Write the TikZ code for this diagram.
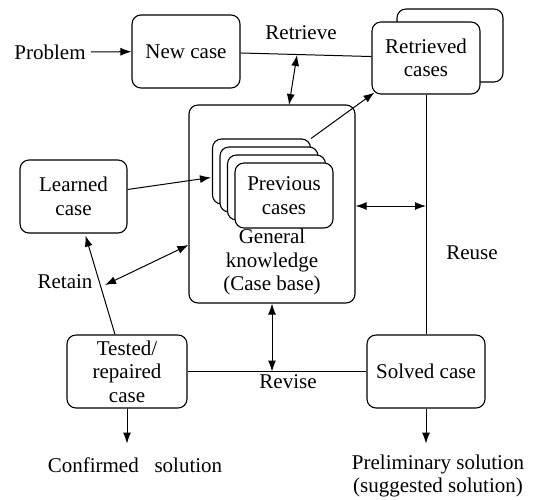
\documentclass[tikz,border=0pt]{standalone}
\usepackage{fontspec}
\setmainfont{Liberation Serif}
\usetikzlibrary{arrows.meta,calc}

\tikzset{
	cbrbox/.style={draw, line width=1.1pt, rounded corners=9pt, fill=white, align=center, inner sep=1pt},
	lbl/.style={align=center, inner sep=2pt},
	arr/.style={line width=1pt, -{Latex[length=11pt,width=8pt]}},
	darr/.style={line width=1pt, {Latex[length=11pt,width=8pt]}-{Latex[length=11pt,width=8pt]}},
	conn/.style={line width=1pt}
}

\begin{document}
\begin{tikzpicture}[x=1pt, y=-1pt, every node/.style={font=\fontsize{21}{23.5}\selectfont}]
	
	\useasboundingbox (0,0) rectangle (534,499);
	
	% top row
	\node[lbl, inner sep=5pt] (problem) at (50,52) {Problem};
	\node[cbrbox, minimum width=108pt, minimum height=73pt] (newcase) at (186,51.5) {New case};
	\node[cbrbox, minimum width=106pt, minimum height=73pt] (retrback) at (450,45.5) {};
	\node[cbrbox, minimum width=108pt, minimum height=72pt] (retr) at (426,58) {Retrieved\\cases};
	
	% case base with the stack of previous cases
	\node[cbrbox, minimum width=166pt, minimum height=198pt] (genknow) at (272,204) {};
	\node[cbrbox, minimum width=98pt, minimum height=65pt] (prev1) at (261.5,171.5) {};
	\node[cbrbox, minimum width=98pt, minimum height=65pt] (prev2) at (269,179.5) {};
	\node[cbrbox, minimum width=98pt, minimum height=65pt] (prev3) at (276.5,187.5) {};
	\node[cbrbox, minimum width=98pt, minimum height=65pt] (prev4) at (284,195.5) {Previous\\cases};
	\node[lbl] (genlabel) at (272,262) {General\\knowledge\\(Case base)};
	
	\node[cbrbox, minimum width=107pt, minimum height=73pt] (learned) at (73.5,196.5) {Learned\\case};
	\node[cbrbox, minimum width=120pt, minimum height=73pt] (tested) at (127,371.5) {Tested/\\repaired\\case};
	\node[cbrbox, minimum width=118pt, minimum height=73pt] (solved) at (426,371.5) {Solved case};
	
	% outputs
	\node[lbl] (confirmed) at (135,465) {Confirmed\hspace{0.5em} solution};
	\node[lbl] (prelim) at (438,476) {Preliminary solution\\(suggested solution)};
	
	% step labels
	\node[lbl] (retrieve) at (301,33) {Retrieve};
	\node[lbl] (reuse) at (472,253) {Reuse};
	\node[lbl] (revise) at (288,382) {Revise};
	\node[lbl] (retain) at (65,282) {Retain};
	
	\coordinate (rtop) at (297,55);
	\coordinate (rbot) at (289,105);
	\coordinate (retainend) at (105,285);
	
	\draw[arr] (problem) -- (newcase);
	\draw[conn] (newcase) -- (retr);
	\draw[darr] (rtop) -- (rbot);
	\draw[arr] (prev1.north east) -- ($(retr.south west)+(3,-2)$);
	\draw[arr] ($(learned.east)+(0,-7)$) -- ($(prev1.west)+(-1,6)$);
	\draw[darr] (retainend) -- ($(genknow.west)+(0,41)$);
	\draw[arr] ($(tested.north)+(-12,0)$) -- ($(learned.south)+(12,2)$);
	\draw[conn] (tested.east) -- (solved.west);
	\draw[darr] (genknow.south) -- (genknow.south |- tested.east);
	\draw[conn] (retr.south) -- (solved.north);
	\draw[darr] ($(genknow.east)+(0,2)$) -- ($(genknow.east -| retr.south)+(0,2)$);
	\draw[arr] (tested.south) -- ++(0,35);
	\draw[arr] (solved.south) -- ++(0,35);
	
\end{tikzpicture}
\end{document}
